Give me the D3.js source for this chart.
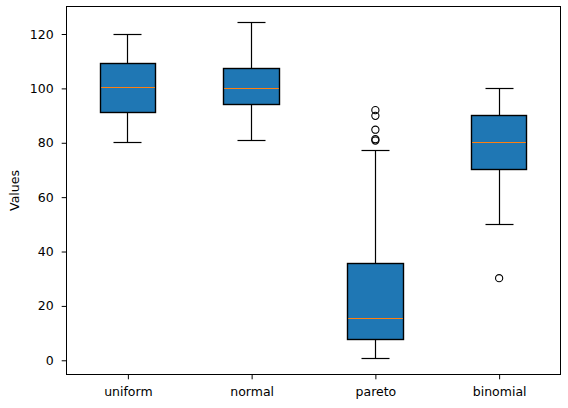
<!DOCTYPE html>
<html>
<head>
<meta charset="utf-8">
<script src="https://cdn.jsdelivr.net/npm/d3@7"></script>
<style>
  body { margin: 0; background: #fff; }
  text { font-family: "DejaVu Sans", sans-serif; }
</style>
</head>
<body>
<div class="box-wrapper"></div>
<script>
// box statistics
const categories = ["uniform", "normal", "pareto", "binomial"]
const whiskerLow = [80.1, 80.8, 0.8, 50]
const q1 = [91.2, 94.1, 7.7, 70]
const medians = [100.3, 100.0, 15.5, 80]
const q3 = [109.3, 107.3, 35.7, 90]
const whiskerHigh = [120, 124.3, 77.3, 100]
const outliers = [[], [], [92.0, 89.9, 84.8, 81.3, 80.8], [30.2]]
const yTicks = [0, 20, 40, 60, 80, 100, 120]

const width = 568, height = 408
const margin = {top: 6, right: 7, bottom: 33, left: 66}

const svg = d3.select('.box-wrapper')
  .append('svg')
  .attr('width', width)
  .attr('height', height)

const x = d3.scaleLinear()
  .domain([0.5, 4.5])
  .range([margin.left, width - margin.right])

const y = d3.scaleLinear()
  .domain([-5.41, 130.3])
  .range([height - margin.bottom, margin.top])

// snap to pixel centres so 1px lines stay sharp
const px = v => Math.round(v - 0.5) + 0.5
const sy = v => px(y(v))
const sx = v => px(x(v))

const boxW = x(1.45) - x(1)
const capW = boxW / 2

const data = categories.map((c, i) => ({
  name: c, pos: i + 1,
  lo: whiskerLow[i], q1: q1[i], med: medians[i], q3: q3[i], hi: whiskerHigh[i],
  fliers: outliers[i]
}))

const box = svg.append('g').selectAll('g.box')
  .data(data)
  .enter()
  .append('g')
  .attr('class', 'box')

// whiskers
box.append('line')
  .attr('x1', d => sx(d.pos)).attr('x2', d => sx(d.pos))
  .attr('y1', d => sy(d.q1)).attr('y2', d => sy(d.lo))
  .attr('stroke', '#000').attr('stroke-width', 1.2)
box.append('line')
  .attr('x1', d => sx(d.pos)).attr('x2', d => sx(d.pos))
  .attr('y1', d => sy(d.q3)).attr('y2', d => sy(d.hi))
  .attr('stroke', '#000').attr('stroke-width', 1.2)

// caps
box.append('line')
  .attr('x1', d => px(x(d.pos) - capW / 2)).attr('x2', d => px(x(d.pos) + capW / 2))
  .attr('y1', d => sy(d.lo)).attr('y2', d => sy(d.lo))
  .attr('stroke', '#000').attr('stroke-width', 1.2)
box.append('line')
  .attr('x1', d => px(x(d.pos) - capW / 2)).attr('x2', d => px(x(d.pos) + capW / 2))
  .attr('y1', d => sy(d.hi)).attr('y2', d => sy(d.hi))
  .attr('stroke', '#000').attr('stroke-width', 1.2)

// boxes
box.append('rect')
  .attr('x', d => px(x(d.pos) - boxW / 2))
  .attr('width', d => px(x(d.pos) + boxW / 2) - px(x(d.pos) - boxW / 2))
  .attr('y', d => sy(d.q3))
  .attr('height', d => sy(d.q1) - sy(d.q3))
  .attr('fill', '#1f77b4')
  .attr('stroke', '#000')
  .attr('stroke-width', 1.4)

// medians
box.append('line')
  .attr('x1', d => px(x(d.pos) - boxW / 2) + 0.7).attr('x2', d => px(x(d.pos) + boxW / 2) - 0.7)
  .attr('y1', d => sy(d.med)).attr('y2', d => sy(d.med))
  .attr('stroke', '#ff7f0e').attr('stroke-width', 1.2)

// fliers
box.selectAll('circle')
  .data(d => d.fliers.map(v => ({pos: d.pos, v: v})))
  .enter()
  .append('circle')
  .attr('cx', d => x(d.pos))
  .attr('cy', d => y(d.v))
  .attr('r', 3.6)
  .attr('fill', 'none')
  .attr('stroke', '#000')
  .attr('stroke-width', 1.1)

// axes
const xAxis = svg.append('g')
  .attr('transform', 'translate(0,' + (height - margin.bottom) + ')')
  .call(d3.axisBottom(x).tickValues([1, 2, 3, 4]).tickFormat(d => categories[d - 1]).tickSize(4.3).tickPadding(7.5))
const yAxis = svg.append('g')
  .attr('transform', 'translate(' + margin.left + ',0)')
  .call(d3.axisLeft(y).tickValues(yTicks).tickSize(4.3).tickPadding(8))

;[xAxis, yAxis].forEach(a => {
  a.select('.domain').remove()
  a.selectAll('line').attr('stroke', '#000').attr('stroke-width', 1)
  a.selectAll('text').attr('fill', '#000').style('font-size', '12.5px').style('font-family', '"DejaVu Sans", sans-serif')
})

// frame
svg.append('rect')
  .attr('x', margin.left + 0.5).attr('y', margin.top + 0.5)
  .attr('width', width - margin.left - margin.right - 1)
  .attr('height', height - margin.top - margin.bottom - 1)
  .attr('fill', 'none')
  .attr('stroke', '#000')
  .attr('stroke-width', 1)

svg.append('text')
  .attr('transform', 'translate(19,' + (margin.top + (height - margin.top - margin.bottom) / 2) + ') rotate(-90)')
  .attr('text-anchor', 'middle')
  .style('font-size', '12.5px')
  .text('Values')
</script>
</body>
</html>
